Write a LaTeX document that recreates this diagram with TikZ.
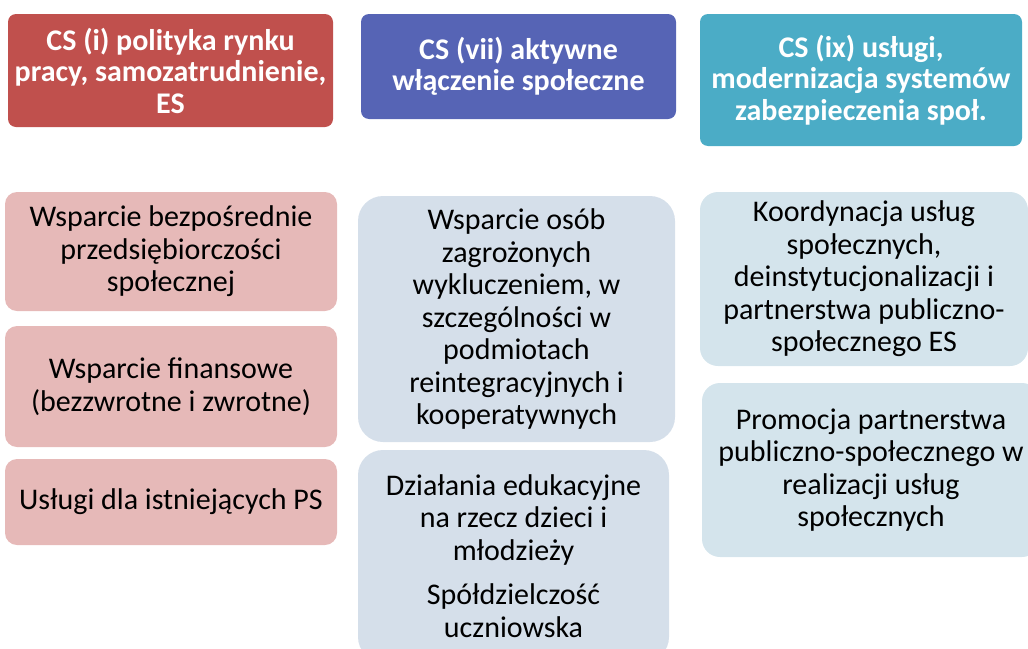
\documentclass[tikz,border=0pt]{standalone}
\usepackage{fontspec}
\setmainfont{Carlito}
\usetikzlibrary{positioning}
\definecolor{hdrred}{HTML}{C0504D}
\definecolor{hdrblue}{HTML}{5664B5}
\definecolor{hdrteal}{HTML}{4BACC6}
\definecolor{boxpink}{HTML}{E6B9B8}
\definecolor{boxgrey}{HTML}{D5DFEA}
\definecolor{boxcyan}{HTML}{D4E4EC}
\begin{document}
\begin{tikzpicture}[x=1pt,y=-1pt,
  hdr/.style={rounded corners=8pt,inner sep=0pt,align=center,text=white,
    font=\fontsize{30}{31.5}\selectfont\bfseries},
  item/.style={inner sep=0pt,align=center,text=black,
    font=\fontsize{30}{32.5}\selectfont}]
\useasboundingbox (0,0) rectangle (1028,648);
\clip (0,0) rectangle (1028,648);
% naglowki
\node[hdr,fill=hdrred,minimum width=325pt,minimum height=113pt] (csi) at (170.5,70.5) {CS (i) polityka rynku\\pracy, samozatrudnienie,\\ES};
\node[hdr,fill=hdrblue,minimum width=315pt,minimum height=105pt] (csvii) at (518.5,66.5) {CS (vii) aktywne\\włączenie społeczne};
\node[hdr,fill=hdrteal,minimum width=322pt,minimum height=132pt] (csix) at (861,80) {CS (ix) usługi,\\modernizacja systemów\\zabezpieczenia społ.};
% kolumna 1
\node[item,fill=boxpink,rounded corners=12pt,minimum width=332pt,minimum height=119pt] (bezp) at (171,251.5) {Wsparcie bezpośrednie\\przedsiębiorczości\\społecznej};
\node[item,fill=boxpink,rounded corners=12pt,minimum width=332pt,minimum height=121pt] (fin) at (171,386.5) {Wsparcie finansowe\\(bezzwrotne i zwrotne)};
\node[item,fill=boxpink,rounded corners=12pt,minimum width=332pt,minimum height=86pt] (ps) at (171,502) {Usługi dla istniejących PS};
% kolumna 2
\node[item,fill=boxgrey,rounded corners=25pt,minimum width=317pt,minimum height=246pt] (wykl) at (516.5,319) {Wsparcie osób\\zagrożonych\\wykluczeniem, w\\szczególności w\\podmiotach\\reintegracyjnych i\\kooperatywnych};
\node[item,fill=boxgrey,rounded corners=25pt,minimum width=311pt,minimum height=212pt] (edu) at (513.5,556) {Działania edukacyjne\\na rzecz dzieci i\\młodzieży\\[12pt]Spółdzielczość\\uczniowska};
% kolumna 3
\node[item,fill=boxcyan,rounded corners=18pt,minimum width=328pt,minimum height=174pt] (koord) at (864,279) {Koordynacja usług\\społecznych,\\deinstytucjonalizacji i\\partnerstwa publiczno-\\społecznego ES};
\node[item,fill=boxcyan,rounded corners=18pt,minimum width=338pt,minimum height=174pt] (prom) at (871,470) {Promocja partnerstwa\\publiczno-społecznego w\\realizacji usług\\społecznych};
\end{tikzpicture}
\end{document}
